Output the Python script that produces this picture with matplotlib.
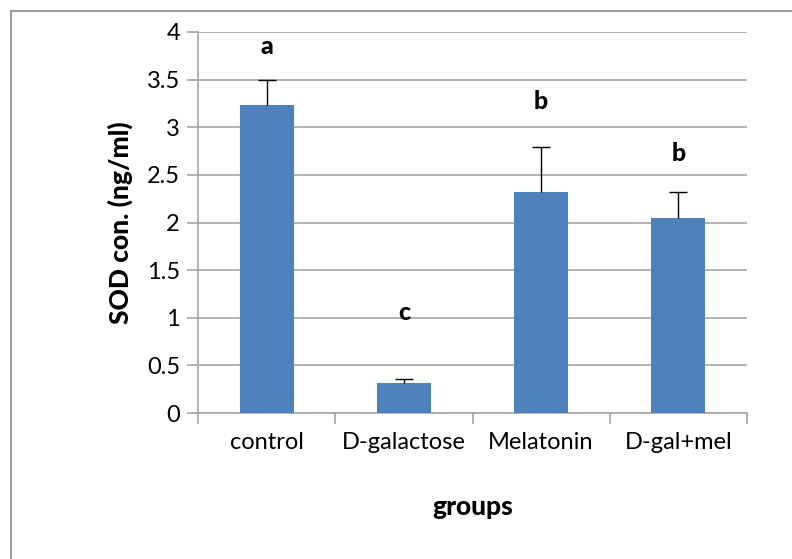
import matplotlib.pyplot as plt
import matplotlib.patches as patches
from matplotlib.ticker import FixedLocator, FuncFormatter

groups = ['control', 'D-galactose', 'Melatonin', 'D-gal+mel']
sod = [3.23, 0.31, 2.32, 2.05]
sod_err = [0.27, 0.05, 0.47, 0.27]
letters = ['a', 'c', 'b', 'b']
letter_y = [3.85, 1.05, 3.27, 2.72]

plt.rcParams['font.family'] = ['Lato', 'DejaVu Sans']

fig = plt.figure(figsize=(7.92, 5.59), dpi=100)
# outer chart frame (Excel style)
fig.patches.append(patches.Rectangle((11 / 792, -0.1), 1.2, 1 - 11 / 559 + 0.1,
                                     transform=fig.transFigure, fill=False,
                                     edgecolor='#888888', linewidth=1.2))

ax = fig.add_axes([198 / 792, 1 - 413 / 559, (747 - 198) / 792, (413 - 32) / 559])

x = list(range(len(groups)))
tops = [v + e for v, e in zip(sod, sod_err)]
ax.bar(x, sod, width=0.395, color='#4F81BD', zorder=3)
# upper error only, no cap at the bar top
ax.vlines(x, sod, tops, color='black', linewidth=1, zorder=4)
ax.plot(x, tops, linestyle='none', marker='_', markersize=13, markeredgewidth=1,
        color='black', zorder=4)

for i, (lt, ly) in enumerate(zip(letters, letter_y)):
    ax.text(i, ly, lt, ha='center', va='center', fontsize=18, fontweight='black')

ax.set_xlim(-0.5, 3.5)
ax.set_ylim(0, 4)
ax.set_yticks([0, 0.5, 1, 1.5, 2, 2.5, 3, 3.5, 4])
ax.yaxis.set_major_formatter(FuncFormatter(lambda v, p: '%g' % v))
ax.yaxis.grid(True, color='#a6a6a6', linewidth=1.2, zorder=0)

ax.set_xticks(x)
ax.set_xticklabels(groups)
ax.xaxis.set_minor_locator(FixedLocator([-0.5, 0.5, 1.5, 2.5, 3.5]))
ax.tick_params(axis='x', which='major', length=0, pad=14, labelsize=17)
ax.tick_params(axis='x', which='minor', length=8, color='#a6a6a6', width=1.2)
ax.tick_params(axis='y', length=8, color='#a6a6a6', width=1.2, labelsize=17, pad=5)

for s in ['top', 'right']:
    ax.spines[s].set_visible(False)
for s in ['left', 'bottom']:
    ax.spines[s].set_color('#a6a6a6')
    ax.spines[s].set_linewidth(1.2)

ax.set_ylabel('SOD con. (ng/ml)', fontsize=19, fontweight='black', labelpad=10)
ax.set_xlabel('groups', fontsize=19, fontweight='black', labelpad=30)

fig.savefig('out.png', dpi=100)
